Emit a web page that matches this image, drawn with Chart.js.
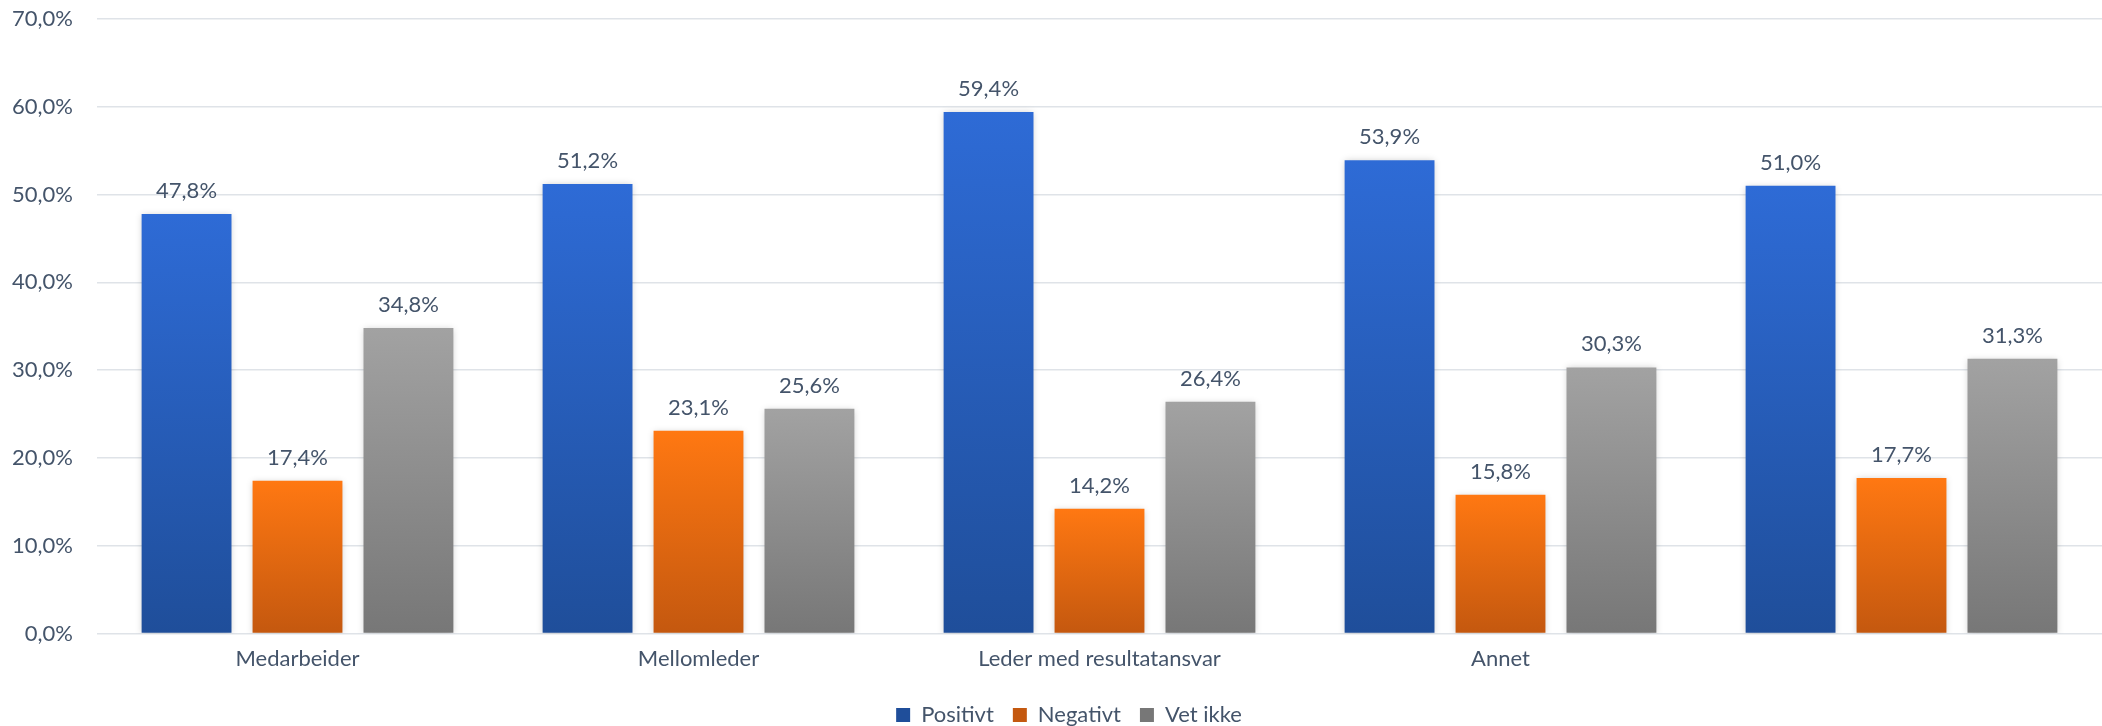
<!DOCTYPE html>
<html>
<head>
<meta charset="utf-8">
<script src="https://cdn.jsdelivr.net/npm/chart.js@4/dist/chart.umd.min.js"></script>
<style>
  html, body { margin: 0; padding: 0; background: #fff; }
  #wrap { width: 2102px; height: 726px; }
</style>
</head>
<body>
<div id="wrap"><canvas id="bar-chart"></canvas></div>
<script>
const categories = ['Medarbeider', 'Mellomleder', 'Leder med resultatansvar', 'Annet', ''];
const positivt = [47.8, 51.2, 59.4, 53.9, 51.0];
const negativt = [17.4, 23.1, 14.2, 15.8, 17.7];
const vetIkke = [34.8, 25.6, 26.4, 30.3, 31.3];
const yTicks = [0, 10, 20, 30, 40, 50, 60, 70];

const textColor = '#44546a';
const fontFamily = 'Lato, "Open Sans", sans-serif';
const fontSize = 22;

const fmt = (v) => v.toFixed(1).replace('.', ',') + '%';

// vertical gradient per bar, light at the top and dark at the bottom
const barFill = (top, bottom, solid) => (ctx) => {
  const chart = ctx.chart;
  if (ctx.type !== 'data' || !chart.chartArea) return solid;
  const y = chart.scales.y;
  const y0 = y.getPixelForValue(ctx.raw);
  const y1 = y.getPixelForValue(0);
  if (!isFinite(y0) || !isFinite(y1) || y0 === y1) return solid;
  const g = chart.ctx.createLinearGradient(0, y0, 0, y1);
  g.addColorStop(0, top);
  g.addColorStop(1, bottom);
  return g;
};

// labels on top of every bar
const valueLabels = {
  id: 'valueLabels',
  afterDatasetsDraw(chart) {
    const ctx = chart.ctx;
    ctx.save();
    ctx.font = fontSize + 'px ' + fontFamily;
    ctx.fillStyle = textColor;
    ctx.textAlign = 'center';
    ctx.textBaseline = 'alphabetic';
    chart.data.datasets.forEach((ds, i) => {
      chart.getDatasetMeta(i).data.forEach((bar, j) => {
        ctx.fillText(fmt(ds.data[j]), bar.x, bar.y - 16);
      });
    });
    ctx.restore();
  },
};

// soft shadow round the bars
const barShadow = {
  id: 'barShadow',
  beforeDatasetsDraw(chart) {
    const ctx = chart.ctx;
    ctx.save();
    ctx.shadowColor = 'rgba(0,0,0,0.22)';
    ctx.shadowBlur = 7;
    ctx.shadowOffsetX = 0;
    ctx.shadowOffsetY = 1;
  },
  afterDatasetsDraw(chart) {
    chart.ctx.restore();
  },
};

// legend sits a little right of the canvas centre in the original
const legendShift = {
  id: 'legendShift',
  afterLayout(chart) {
    chart.legend.left += 18;
    chart.legend.right += 18;
  },
};

new Chart(document.getElementById('bar-chart'), {
  type: 'bar',
  data: {
    labels: categories,
    datasets: [
      {
        label: 'Positivt',
        data: positivt,
        backgroundColor: barFill('#2e6bd6', '#1f4e9a', '#2a5fc0'),
      },
      {
        label: 'Negativt',
        data: negativt,
        backgroundColor: barFill('#ff7812', '#c4580f', '#e8690f'),
      },
      {
        label: 'Vet ikke',
        data: vetIkke,
        backgroundColor: barFill('#a2a2a2', '#777777', '#8e8e8e'),
      },
    ],
  },
  plugins: [barShadow, valueLabels, legendShift],
  options: {
    responsive: true,
    maintainAspectRatio: false,
    animation: false,
    datasets: {
      bar: {
        categoryPercentage: 0.83,
        barPercentage: 0.81,
      },
    },
    layout: {
      padding: { top: 19, right: 0, left: 0, bottom: -10 },
    },
    scales: {
      x: {
        grid: { display: false, drawTicks: false },
        border: { display: false },
        ticks: {
          color: textColor,
          font: { family: fontFamily, size: fontSize, lineHeight: 1.16 },
          padding: 13,
        },
      },
      y: {
        min: 0,
        max: 70,
        afterBuildTicks: (axis) => {
          axis.ticks = yTicks.map((v) => ({ value: v }));
        },
        afterFit: (axis) => {
          axis.width = 97;
          axis.paddingTop = 0;
          axis.paddingBottom = 0;
        },
        grid: { color: '#dfe3e8', lineWidth: 1.5, drawTicks: false },
        border: { display: false },
        ticks: {
          color: textColor,
          font: { family: fontFamily, size: fontSize },
          padding: 24,
          callback: (v) => fmt(v),
        },
      },
    },
    plugins: {
      legend: {
        position: 'bottom',
        labels: {
          color: textColor,
          font: { family: fontFamily, size: fontSize, lineHeight: 1.15 },
          boxWidth: 14,
          boxHeight: 14,
          padding: 19,
        },
      },
      tooltip: { enabled: false },
    },
  },
});
</script>
</body>
</html>
